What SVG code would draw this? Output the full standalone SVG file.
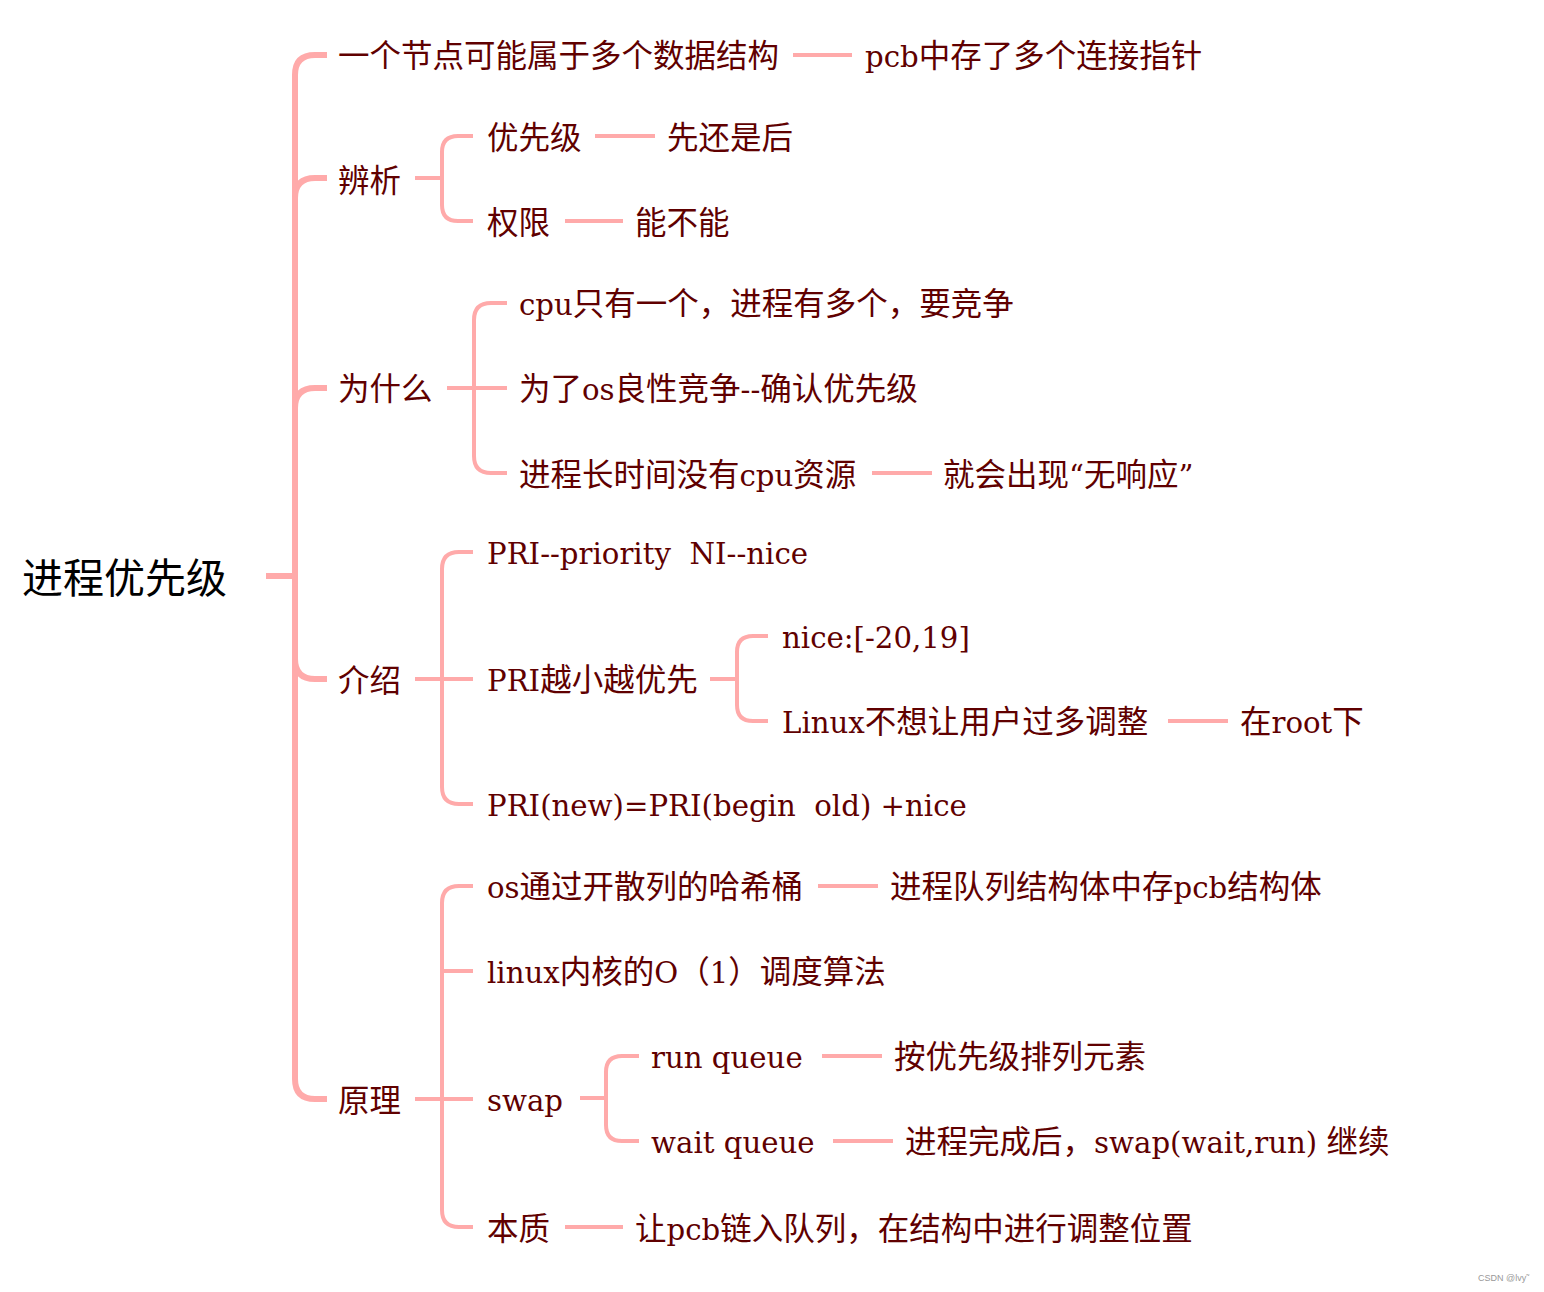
<svg xmlns="http://www.w3.org/2000/svg" width="1544" height="1292" viewBox="0 0 1544 1292">
<style>
.t{font-family:"DejaVu Serif","Noto Sans CJK SC",serif;font-size:31.5px;fill:#600000;white-space:pre}
.l{font-size:29.2px}
.root{font-family:"Noto Sans CJK SC",sans-serif;font-size:41px;fill:#000}
.trunk{fill:none;stroke:#ffaaaa;stroke-width:6}
.br{fill:none;stroke:#ffaaaa;stroke-width:4}
.wm{font-family:"Liberation Sans",sans-serif;font-size:9px;fill:#999}
</style>
<rect width="1544" height="1292" fill="#fff"/>
<g id="connectors">
<path class="trunk" d="M266,576 H295"/>
<path class="trunk" d="M295,576 V75 Q295,55 315,55 H327"/>
<path class="trunk" d="M295,576 V198 Q295,178 315,178 H327"/>
<path class="trunk" d="M295,576 V408 Q295,388 315,388 H327"/>
<path class="trunk" d="M295,576 V659 Q295,679 315,679 H327"/>
<path class="trunk" d="M295,576 V1079 Q295,1099 315,1099 H327"/>
<path class="br" d="M793,55 H852"/>
<path class="br" d="M415,178 H442 M442,178 V152 Q442,136 458,136 H473 M442,178 V205 Q442,221 458,221 H473"/>
<path class="br" d="M595,136 H655"/>
<path class="br" d="M565,221 H623"/>
<path class="br" d="M447,388 H507 M474,388 V320 Q474,303 491,303 H507 M474,388 V456 Q474,473 491,473 H507"/>
<path class="br" d="M872,473 H932"/>
<path class="br" d="M415,679 H473 M442,679 V569 Q442,552 459,552 H473 M442,679 V787 Q442,804 459,804 H473"/>
<path class="br" d="M710,679 H737 M737,679 V652 Q737,636 753,636 H768 M737,679 V705 Q737,721 753,721 H768"/>
<path class="br" d="M1168,721 H1228"/>
<path class="br" d="M415,1099 H473 M442,1099 V903 Q442,886 459,886 H473 M442,971 H473 M442,1099 V1210 Q442,1227 459,1227 H473"/>
<path class="br" d="M818,886 H878"/>
<path class="br" d="M580,1098 H606 M606,1098 V1072 Q606,1056 622,1056 H639 M606,1098 V1125 Q606,1141 622,1141 H639"/>
<path class="br" d="M822,1056 H882"/>
<path class="br" d="M833,1141 H893"/>
<path class="br" d="M565,1227 H623"/>
</g>
<g id="root"><text class="root" x="22" y="593">进程优先级</text></g>
<g id="n1"><text class="t" x="338" y="67">一个节点可能属于多个数据结构</text></g>
<g id="n1a"><text class="t" x="865" y="67"><tspan class="l">pcb</tspan>中存了多个连接指针</text></g>
<g id="n2"><text class="t" x="338" y="192">辨析</text></g>
<g id="n2a"><text class="t" x="487" y="149">优先级</text></g>
<g id="n2a1"><text class="t" x="667" y="149">先还是后</text></g>
<g id="n2b"><text class="t" x="487" y="234">权限</text></g>
<g id="n2b1"><text class="t" x="635" y="234">能不能</text></g>
<g id="n3"><text class="t" x="338" y="400">为什么</text></g>
<g id="n3a"><text class="t" x="519" y="315"><tspan class="l">cpu</tspan>只有一个，进程有多个，要竞争</text></g>
<g id="n3b"><text class="t" x="519" y="400">为了<tspan class="l">os</tspan>良性竞争<tspan class="l">--</tspan>确认优先级</text></g>
<g id="n3c"><text class="t" x="519" y="486">进程长时间没有<tspan class="l">cpu</tspan>资源</text></g>
<g id="n3c1"><text class="t" x="943" y="486">就会出现<tspan class="l">“</tspan>无响应<tspan class="l">”</tspan></text></g>
<g id="n4"><text class="t" x="338" y="692">介绍</text></g>
<g id="n4a"><text class="t l" x="487" y="564" xml:space="preserve">PRI--priority  NI--nice</text></g>
<g id="n4b"><text class="t" x="487" y="691"><tspan class="l">PRI</tspan>越小越优先</text></g>
<g id="n4b1"><text class="t l" x="782" y="648">nice:[-20,19]</text></g>
<g id="n4b2"><text class="t" x="782" y="733"><tspan class="l">Linux</tspan>不想让用户过多调整</text></g>
<g id="n4b2a"><text class="t" x="1240" y="733">在<tspan class="l">root</tspan>下</text></g>
<g id="n4c"><text class="t l" x="487" y="816" xml:space="preserve">PRI(new)=PRI(begin  old) +nice</text></g>
<g id="n5"><text class="t" x="338" y="1112">原理</text></g>
<g id="n5a"><text class="t" x="487" y="898"><tspan class="l">os</tspan>通过开散列的哈希桶</text></g>
<g id="n5a1"><text class="t" x="890" y="898">进程队列结构体中存<tspan class="l">pcb</tspan>结构体</text></g>
<g id="n5b"><text class="t" x="487" y="983"><tspan class="l">linux</tspan>内核的<tspan class="l">O</tspan>（<tspan class="l">1</tspan>）调度算法</text></g>
<g id="n5c"><text class="t l" x="487" y="1111">swap</text></g>
<g id="n5c1"><text class="t l" x="651" y="1068">run queue</text></g>
<g id="n5c1a"><text class="t" x="894" y="1068">按优先级排列元素</text></g>
<g id="n5c2"><text class="t l" x="651" y="1153">wait queue</text></g>
<g id="n5c2a"><text class="t" x="905" y="1153" xml:space="preserve">进程完成后，<tspan class="l">swap(wait,run) </tspan>继续</text></g>
<g id="n5d"><text class="t" x="487" y="1240">本质</text></g>
<g id="n5d1"><text class="t" x="635" y="1240">让<tspan class="l">pcb</tspan>链入队列，在结构中进行调整位置</text></g>
<text class="wm" x="1478" y="1281">CSDN @lvy˜</text>
</svg>
